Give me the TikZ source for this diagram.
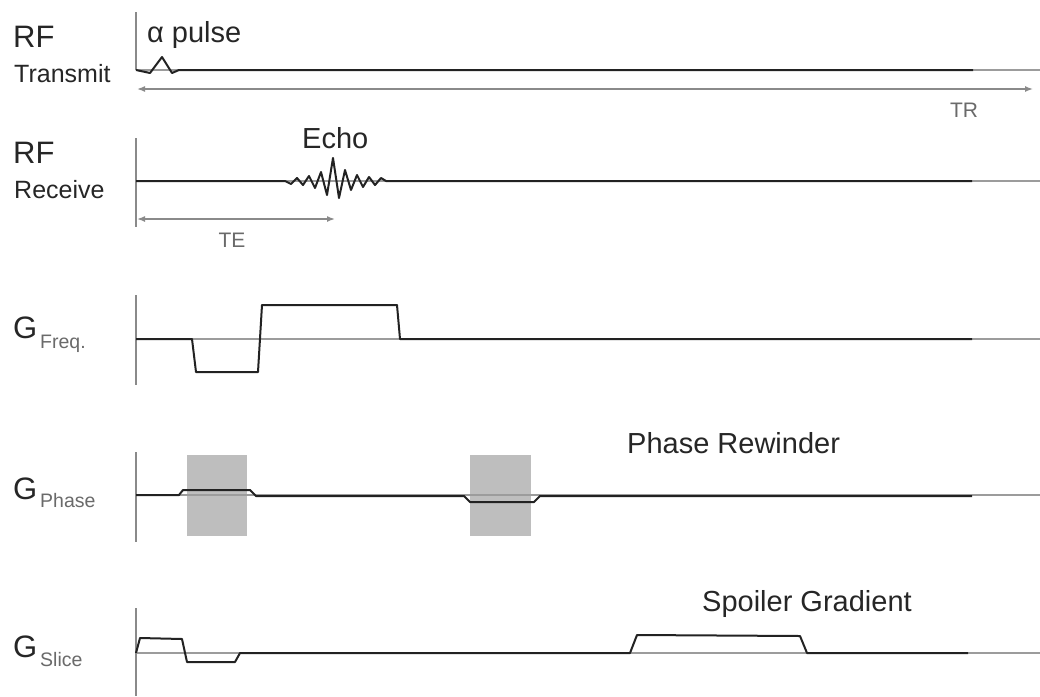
\documentclass[tikz,border=0pt]{standalone}
\usepackage{fontspec}
\setmainfont{Liberation Sans}
\usetikzlibrary{arrows.meta}
\definecolor{txt}{HTML}{262626}
\definecolor{subtxt}{HTML}{6A6A6A}
\definecolor{axisgray}{HTML}{8A8A8A}
\definecolor{basegray}{HTML}{9C9C9C}
\definecolor{wave}{HTML}{222222}
\definecolor{boxgray}{HTML}{BEBEBE}
\tikzset{
  big/.style={inner sep=0pt, anchor=base west, text=txt, font=\fontsize{31}{34}\selectfont},
  mid/.style={inner sep=0pt, anchor=base west, text=txt, font=\fontsize{25}{28}\selectfont},
  sub/.style={inner sep=0pt, anchor=base west, text=subtxt, font=\fontsize{19.5}{22}\selectfont},
  lab/.style={inner sep=0pt, anchor=base west, text=txt, font=\fontsize{29}{32}\selectfont},
  small/.style={inner sep=0pt, anchor=base, text=subtxt, font=\fontsize{21}{24}\selectfont},
  axisline/.style={draw=axisgray, line width=2pt},
  baseline/.style={draw=basegray, line width=1.5pt},
  waveline/.style={draw=wave, line width=2pt, line join=round},
  dimarrow/.style={draw=axisgray, line width=1.5pt, {Latex[length=8pt,width=6pt]}-{Latex[length=8pt,width=6pt]}},
  shade/.style={fill=boxgray, draw=none}
}
\begin{document}
\begin{tikzpicture}[x=1pt,y=-1pt]
\useasboundingbox[fill=white] (0,0) rectangle (1040,696);

% ---------- Row 1: RF Transmit ----------
\node[big] (rf1) at (13,47) {RF};
\node[mid] (tx) at (14,82) {Transmit};
\node[lab] (alpha) at (147,42) {α pulse};
\coordinate (a1t) at (136,12);
\coordinate (a1b) at (136,70);
\draw[axisline] (a1t) -- (a1b);
\draw[baseline] (136,70) -- (1040,70);
\draw[waveline] (136,70) -- (150,73) -- (162,57) -- (172,73) -- (179,70) -- (973,70);
\coordinate (trL) at (137,89);
\coordinate (trR) at (1033,89);
\draw[dimarrow] (trL) -- (trR);
\node[small] (tr) at (964,117) {TR};

% ---------- Row 2: RF Receive ----------
\node[big] (rf2) at (13,163) {RF};
\node[mid] (rx) at (14,198) {Receive};
\node[lab] (echo) at (302,148) {Echo};
\coordinate (a2t) at (136,138);
\coordinate (a2b) at (136,227);
\draw[axisline] (a2t) -- (a2b);
\draw[baseline] (136,181) -- (1040,181);
\draw[waveline] (136,181) -- (285,181) -- (291,184) -- (297,178) -- (303,185) -- (309,176)
  -- (315,188) -- (321,172) -- (327,195) -- (333,158)
  -- (339,198) -- (345,170) -- (351,190) -- (357,175) -- (363,187) -- (369,177)
  -- (375,185) -- (381,178) -- (386,181) -- (972,181);
\coordinate (teL) at (137,219);
\coordinate (teR) at (335,219);
\draw[dimarrow] (teL) -- (teR);
\node[small] (te) at (232,247) {TE};

% ---------- Row 3: G Freq ----------
\node[big] (g3) at (13,338) {G};
\node[sub] (s3) at (40,348) {Freq.};
\coordinate (a3t) at (136,295);
\coordinate (a3b) at (136,385);
\draw[axisline] (a3t) -- (a3b);
\draw[baseline] (136,339) -- (1040,339);
\draw[waveline] (136,339) -- (192,339) -- (196,372) -- (258,372) -- (262,305)
  -- (397,305) -- (400,339) -- (972,339);

% ---------- Row 4: G Phase ----------
\node[big] (g4) at (13,499) {G};
\node[sub] (s4) at (40,507) {Phase};
\node[lab] (rew) at (627,453) {Phase Rewinder};
\fill[shade] (187,455) rectangle (247,536);
\fill[shade] (470,455) rectangle (531,536);
\coordinate (a4t) at (136,452);
\coordinate (a4b) at (136,542);
\draw[axisline] (a4t) -- (a4b);
\draw[baseline] (136,495) -- (1040,495);
\draw[waveline] (136,495) -- (179,495) -- (183,490) -- (250,490) -- (256,496)
  -- (464,496) -- (470,502) -- (534,502) -- (540,496) -- (972,496);

% ---------- Row 5: G Slice ----------
\node[big] (g5) at (13,657) {G};
\node[sub] (s5) at (40,666) {Slice};
\node[lab] (spoil) at (702,611) {Spoiler Gradient};
\coordinate (a5t) at (136,608);
\coordinate (a5b) at (136,696);
\draw[axisline] (a5t) -- (a5b);
\draw[baseline] (136,653) -- (1040,653);
\draw[waveline] (136,653) -- (140,638) -- (182,639) -- (187,662) -- (235,662)
  -- (240,653) -- (630,653) -- (637,635) -- (800,636) -- (807,653) -- (968,653);
\end{tikzpicture}
\end{document}
